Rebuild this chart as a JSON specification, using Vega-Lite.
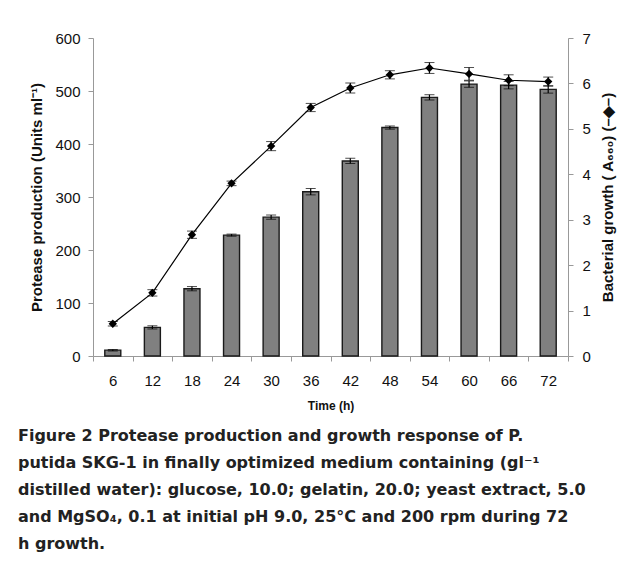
{
  "$schema": "https://vega.github.io/schema/vega-lite/v6.json",
  "width": 475,
  "height": 318,
  "autosize": {"type": "none"},
  "padding": {"left": 93, "top": 38, "right": 54, "bottom": 208},
  "background": "white",
  "data": {
    "values": [
      {"time": 6, "protease": 11, "perr": 1.5, "growth": 0.71, "gerr": 0.05},
      {"time": 12, "protease": 54, "perr": 3, "growth": 1.39, "gerr": 0.07},
      {"time": 18, "protease": 127, "perr": 4, "growth": 2.67, "gerr": 0.08},
      {"time": 24, "protease": 228, "perr": 2, "growth": 3.80, "gerr": 0.05},
      {"time": 30, "protease": 262, "perr": 4, "growth": 4.62, "gerr": 0.1},
      {"time": 36, "protease": 310, "perr": 6, "growth": 5.47, "gerr": 0.09},
      {"time": 42, "protease": 368, "perr": 5, "growth": 5.90, "gerr": 0.11},
      {"time": 48, "protease": 431, "perr": 3, "growth": 6.19, "gerr": 0.09},
      {"time": 54, "protease": 488, "perr": 5, "growth": 6.34, "gerr": 0.12},
      {"time": 60, "protease": 513, "perr": 6, "growth": 6.21, "gerr": 0.14},
      {"time": 66, "protease": 511, "perr": 7, "growth": 6.07, "gerr": 0.12},
      {"time": 72, "protease": 503, "perr": 7, "growth": 6.04, "gerr": 0.1}
    ]
  },
  "title": {
    "text": [
      "Figure 2 Protease production and growth response of P.",
      "putida SKG-1 in finally optimized medium containing (gl⁻¹",
      "distilled water): glucose, 10.0; gelatin, 20.0; yeast extract, 5.0",
      "and MgSO₄, 0.1 at initial pH 9.0, 25°C and 200 rpm during 72",
      "h growth."
    ],
    "orient": "bottom",
    "anchor": "start",
    "frame": "bounds",
    "font": "DejaVu Sans",
    "fontSize": 16,
    "fontWeight": "bold",
    "lineHeight": 27,
    "color": "#222",
    "offset": 17,
    "dx": -12
  },
  "encoding": {
    "x": {
      "field": "time",
      "type": "ordinal",
      "title": "Time (h)",
      "scale": {"paddingInner": 0, "paddingOuter": 0},
      "axis": {
        "labelAngle": 0,
        "tickBand": "extent",
        "labelPadding": 12,
        "titlePadding": 12,
        "titleFontSize": 12
      }
    }
  },
  "layer": [
    {
      "layer": [
        {
          "mark": {"type": "bar", "size": 16, "fill": "#808080", "stroke": "#1a1a1a", "strokeWidth": 1.4},
          "encoding": {
            "y": {
              "field": "protease",
              "type": "quantitative",
              "title": "Protease production (Units ml⁻¹)",
              "scale": {"domain": [0, 600], "nice": false},
              "axis": {"orient": "left", "values": [0, 100, 200, 300, 400, 500, 600], "labelPadding": 8, "titlePadding": 10}
            }
          }
        },
        {
          "mark": {"type": "errorbar", "color": "black", "ticks": {"size": 10, "color": "black"}, "rule": {"strokeWidth": 1.2}},
          "encoding": {
            "y": {"field": "protease", "type": "quantitative", "title": "Protease production (Units ml⁻¹)"},
            "yError": {"field": "perr"}
          }
        }
      ]
    },
    {
      "layer": [
        {
          "mark": {"type": "line", "color": "black", "strokeWidth": 1.2},
          "encoding": {
            "y": {
              "field": "growth",
              "type": "quantitative",
              "title": "Bacterial growth ( A₆₆₀) (–◆–)",
              "scale": {"domain": [0, 7], "nice": false},
              "axis": {"orient": "right", "values": [0, 1, 2, 3, 4, 5, 6, 7], "labelPadding": 9, "titlePadding": 10, "titleAngle": 270, "titleBaseline": "top"}
            }
          }
        },
        {
          "mark": {"type": "errorbar", "color": "black", "ticks": {"size": 10, "color": "black"}, "rule": {"strokeWidth": 1.2}},
          "encoding": {
            "y": {"field": "growth", "type": "quantitative", "title": "Bacterial growth ( A₆₆₀) (–◆–)"},
            "yError": {"field": "gerr"}
          }
        },
        {
          "mark": {"type": "point", "shape": "diamond", "filled": true, "color": "black", "size": 70, "opacity": 1},
          "encoding": {
            "y": {"field": "growth", "type": "quantitative", "title": "Bacterial growth ( A₆₆₀) (–◆–)"}
          }
        }
      ]
    }
  ],
  "resolve": {"scale": {"y": "independent"}},
  "config": {
    "font": "Liberation Sans",
    "view": {"stroke": null},
    "axis": {
      "grid": false,
      "domainColor": "#999",
      "tickColor": "#999",
      "tickSize": 5,
      "labelFont": "Liberation Sans",
      "labelFontSize": 15,
      "labelColor": "#111",
      "titleFont": "Liberation Sans",
      "titleFontSize": 15,
      "titleFontWeight": "bold",
      "titleColor": "#111"
    }
  }
}
